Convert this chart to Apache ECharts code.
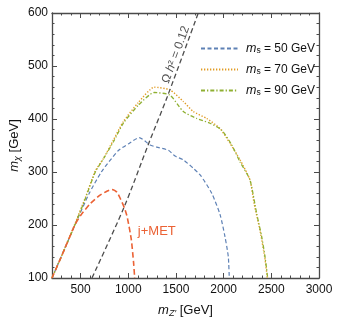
<!DOCTYPE html>
<html><head><meta charset="utf-8">
<script src="https://cdn.jsdelivr.net/npm/echarts@6/dist/echarts.min.js"></script>
<style>html,body{margin:0;padding:0;background:#fff}#c{width:341px;height:325px}</style>
</head><body><div id="c"></div>
<script>
// ---- data ----
const xTickLabels = [500, 1000, 1500, 2000, 2500, 3000];
const yTickLabels = [100, 200, 300, 400, 500, 600];

const ms50X = [200,440,591,717,800,899,1000,1115,1228,1298,1420,1490,1577,1682,1760,1875,1962,2014,2049,2059];
const ms50Y = [100,200,260,300,320,341,353,365,351,347,341,330,323,307,293,260,220,178,140,100];

const ms70X = [200,300,440,550,654,738,843,948,1105,1273,1437,1577,1682,1822,1962,2067,2172,2276,2320,2381,2430,2458];
const ms70Y = [100,142,202,252,302,325,360,395,431,460,455,433,414,401,382,354,323,285,240,190,140,100];

const ms90X = [200,300,440,550,654,750,847,948,1105,1273,1437,1577,1717,1857,1980,2085,2172,2276,2346,2399,2434,2462];
const ms90Y = [100,141,200,250,300,328,358,392,426,450,445,414,401,392,379,351,319,285,222,178,140,100];

const jmetX = [200,300,440,500,600,700,780,829,880,916,960,990,1032,1056,1067];
const jmetY = [100,141,200,218,240,256,264,267,262,250,232,214,172,128,100];

const omegaX = [619,952,1221,1409,1734];
const omegaY = [100,232,357,442,600];

const legendNames = ['50', '70', '90'];

// ---- chart ----
const zip = (xs, ys) => xs.map((x, i) => [x, ys[i]]);
const FONT = '"Liberation Sans", Arial, sans-serif';
const AX = '#4a4a4a';
const chart = echarts.init(document.getElementById('c'), null, {renderer: 'canvas'});

function xAxisDef(pos, major, labels) {
  const a = {
    type: 'value', min: 200, max: 3000, position: pos, gridIndex: 0,
    splitLine: {show: false},
    axisLine: {show: !major, onZero: false, lineStyle: {color: AX, width: 1.3}},
    axisTick: {show: true, inside: true, length: major ? 5 : 2.5, lineStyle: {color: AX, width: 1}},
    axisLabel: {show: false}
  };
  if (major) {
    a.axisTick.customValues = xTickLabels;
    if (labels) {
      a.axisLabel = {show: true, customValues: xTickLabels, formatter: v => String(v),
        color: '#111', fontSize: 12, fontFamily: FONT, margin: 6};
    }
  } else {
    a.interval = 100;
  }
  return a;
}
function yAxisDef(pos, labels) {
  return {
    type: 'value', min: 100, max: 600, interval: 100, position: pos, gridIndex: 0,
    splitLine: {show: false},
    axisLine: {show: true, onZero: false, lineStyle: {color: AX, width: 1.3}},
    axisTick: {show: true, inside: true, length: 5, lineStyle: {color: AX, width: 1}},
    minorTick: {show: true, splitNumber: 5, length: 2.5, lineStyle: {color: AX, width: 1}},
    axisLabel: {show: labels, formatter: v => String(v), color: '#111', fontSize: 12, fontFamily: FONT, margin: 4}
  };
}

const option = {
  animation: false,
  backgroundColor: '#fff',
  grid: {left: 52, right: 22, top: 13, bottom: 47, containLabel: false},
  xAxis: [
    xAxisDef('bottom', false, false),
    xAxisDef('bottom', true, true),
    xAxisDef('top', false, false),
    xAxisDef('top', true, false)
  ],
  yAxis: [yAxisDef('left', true), yAxisDef('right', false)],
  legend: {
    orient: 'vertical', left: 195, top: 37, itemWidth: 37, itemHeight: 12, itemGap: 7.5,
    data: legendNames,
    itemStyle: {opacity: 0},
    formatter: n => '{i|m}{s|s}{t| = ' + n + ' GeV}',
    textStyle: {
      fontFamily: FONT, fontSize: 12, color: '#111', padding: [0, 0, 0, 3],
      rich: {
        i: {fontStyle: 'italic', fontSize: 12.5, fontFamily: FONT, color: '#111'},
        s: {fontSize: 8.5, fontFamily: FONT, color: '#111', verticalAlign: 'bottom', padding: [5, 0, 0, 0]},
        t: {fontSize: 12, fontFamily: FONT, color: '#111'}
      }
    }
  },
  series: [
    {name: '50', type: 'line', xAxisIndex: 0, yAxisIndex: 0, symbol: 'none', smooth: 0.2, data: zip(ms50X, ms50Y),
      lineStyle: {color: '#5E81B5', width: 1.2, type: [4, 2.5]}, itemStyle: {color: '#5E81B5'}, z: 3},
    {name: '70', type: 'line', xAxisIndex: 0, yAxisIndex: 0, symbol: 'none', smooth: 0.2, data: zip(ms70X, ms70Y),
      lineStyle: {color: '#E19C24', width: 1.4, type: [1.3, 1.7]}, itemStyle: {color: '#E19C24'}, z: 3},
    {name: '90', type: 'line', xAxisIndex: 0, yAxisIndex: 0, symbol: 'none', smooth: 0.2, data: zip(ms90X, ms90Y),
      lineStyle: {color: '#8FB032', width: 1.3, type: [4, 2, 1.3, 2]}, itemStyle: {color: '#8FB032'}, z: 3},
    {name: 'jmet', type: 'line', xAxisIndex: 0, yAxisIndex: 0, symbol: 'none', smooth: 0.2, data: zip(jmetX, jmetY),
      lineStyle: {color: '#EB6235', width: 1.6, type: [5.5, 3]}, itemStyle: {color: '#EB6235'}, z: 4},
    {name: 'omega', type: 'line', xAxisIndex: 0, yAxisIndex: 0, symbol: 'none', smooth: 0.3, data: zip(omegaX, omegaY),
      lineStyle: {color: '#4d4d4d', width: 1.3, type: [5, 3]}, itemStyle: {color: '#4d4d4d'}, z: 4}
  ]
};
chart.setOption(option);

// ---- text annotations placed through the chart's own scales ----
const P = v => chart.convertToPixel({xAxisIndex: 0, yAxisIndex: 0}, v);
const a = P([omegaX[3], omegaY[3]]), b = P([omegaX[4], omegaY[4]]);
const ang = Math.atan2(a[1] - b[1], b[0] - a[0]);
const mid = P([1563, 517]);
const off = 6.5;
const tx = mid[0] - off * Math.sin(ang), ty = mid[1] - off * Math.cos(ang);
const jm = P([1100, 187]);

chart.setOption({
  graphic: [
    {type: 'text', x: tx, y: ty, rotation: ang, z: 10,
      style: {text: '{n|Ω }{i|h}{n|² = 0.12}', align: 'center', verticalAlign: 'middle',
        rich: {n: {fontFamily: FONT, fontSize: 12, fill: '#555'}, i: {fontFamily: FONT, fontSize: 12, fontStyle: 'italic', fill: '#555'}}}},
    {type: 'text', x: jm[0], y: jm[1], z: 10,
      style: {text: 'j+MET', fontFamily: FONT, fontSize: 13, fill: '#EB6235', align: 'left', verticalAlign: 'middle'}},
    {type: 'text', x: 185.5, y: 310, z: 10,
      style: {text: '{i|m}{s|Z′}{t| [GeV]}', align: 'center', verticalAlign: 'middle',
        rich: {i: {fontFamily: FONT, fontSize: 13, fontStyle: 'italic', fill: '#111'},
               s: {fontFamily: FONT, fontSize: 9, fontStyle: 'italic', fill: '#111', padding: [6, 0, 0, 0]},
               t: {fontFamily: FONT, fontSize: 13, fill: '#111'}}}},
    {type: 'text', x: 14, y: 145.5, rotation: Math.PI / 2, z: 10,
      style: {text: '{i|m}{s|χ}{t| [GeV]}', align: 'center', verticalAlign: 'middle',
        rich: {i: {fontFamily: FONT, fontSize: 13, fontStyle: 'italic', fill: '#111'},
               s: {fontFamily: FONT, fontSize: 9, fontStyle: 'italic', fill: '#111', padding: [6, 0, 0, 0]},
               t: {fontFamily: FONT, fontSize: 13, fill: '#111'}}}}
  ]
});
</script>
</body></html>
